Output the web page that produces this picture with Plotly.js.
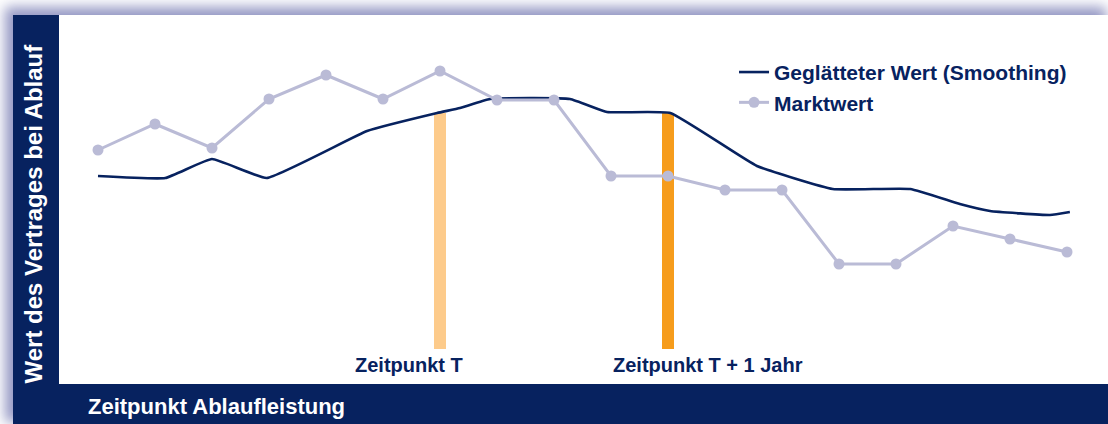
<!DOCTYPE html>
<html>
<head>
<meta charset="utf-8">
<script src="https://cdn.plot.ly/plotly-3.0.1.min.js"></script>
<style>
  html, body { margin:0; padding:0; background:#ffffff; width:1108px; height:424px; overflow:hidden; }
  #chart { position:absolute; left:13px; top:15px; width:1095px; height:409px;
           box-shadow: -5px -5px 12px 3px rgba(130,134,186,0.85); }
</style>
</head>
<body>
<div id="chart"></div>
<script>
// Market value (one point per period)
const marketX = [0,1,2,3,4,5,6,7,8,9,10,11,12,13,14,15,16,17];
const marketY = [234,260,236,285,309,285,313,284,284,208,208,194,194,120,120,158,145,132];

// Smoothed value
const smoothX = [0,1.18,2.0,2.96,4.72,5.95,6.35,6.88,8.28,8.93,10.04,11.56,12.89,14.25,15.12,15.65,16.7,17.05];
const smoothY = [208,206,225,206,253,271,276,285,285,272,271,218,195,195,180,173,169,172];

// Marked points in time
const markX = [6,10];
const markTop = [271,271];
const markBase = 35;
const markLabels = ['Zeitpunkt T','Zeitpunkt T + 1 Jahr'];
const markColors = ['#fdcb8b','#f69c1c'];

const navy = '#07225f';
const lav = '#babbd6';
const fam = 'Liberation Sans, Arial, Helvetica, sans-serif';

const traces = [
  {
    type:'bar', x:markX, y:markTop.map(v => v - markBase), base:markBase,
    width:0.21, marker:{color:markColors, line:{width:0}}, showlegend:false, hoverinfo:'skip'
  },
  {
    type:'scatter', mode:'lines', name:'Geglätteter Wert (Smoothing)',
    x:smoothX, y:smoothY, line:{color:navy, width:2.6, shape:'spline', smoothing:0.35}
  },
  {
    type:'scatter', mode:'lines+markers', name:'Marktwert',
    x:marketX, y:marketY, line:{color:lav, width:3}, marker:{color:lav, size:11}
  }
];

const annotations = [
  { text:'Wert des Vertrages bei Ablauf', xref:'paper', yref:'paper', x:0, y:0.462,
    xshift:-25, xanchor:'center', yanchor:'middle', textangle:-90, showarrow:false,
    font:{family:fam, size:24, color:'#ffffff', weight:'bold'} },
  { text:'Zeitpunkt Ablaufleistung', xref:'paper', yref:'paper', x:0, y:0,
    xshift:27, yshift:-22, xanchor:'left', yanchor:'middle', showarrow:false,
    font:{family:fam, size:22, color:'#ffffff', weight:'bold'} },
  { text:markLabels[0], xref:'x', yref:'y', x:markX[0], y:19, xshift:-31,
    xanchor:'center', yanchor:'middle', showarrow:false,
    font:{family:fam, size:20, color:navy, weight:'bold'} },
  { text:markLabels[1], xref:'x', yref:'y', x:markX[1], y:19, xshift:40,
    xanchor:'center', yanchor:'middle', showarrow:false,
    font:{family:fam, size:20, color:navy, weight:'bold'} }
];

const layout = {
  width:1095, height:409,
  margin:{l:46, r:0, t:0, b:40, pad:0},
  paper_bgcolor:navy, plot_bgcolor:'#ffffff',
  xaxis:{range:[-0.684,17.719], visible:false, fixedrange:true},
  yaxis:{range:[0,369], visible:false, fixedrange:true},
  showlegend:true,
  legend:{x:0.6435, y:0.9, xanchor:'left', yanchor:'top', bgcolor:'rgba(0,0,0,0)',
          traceorder:'normal', itemwidth:30,
          font:{family:fam, size:21, color:navy, weight:'bold'}},
  annotations:annotations,
  bargap:0
};

Plotly.newPlot('chart', traces, layout, {staticPlot:true, displayModeBar:false});
</script>
</body>
</html>
